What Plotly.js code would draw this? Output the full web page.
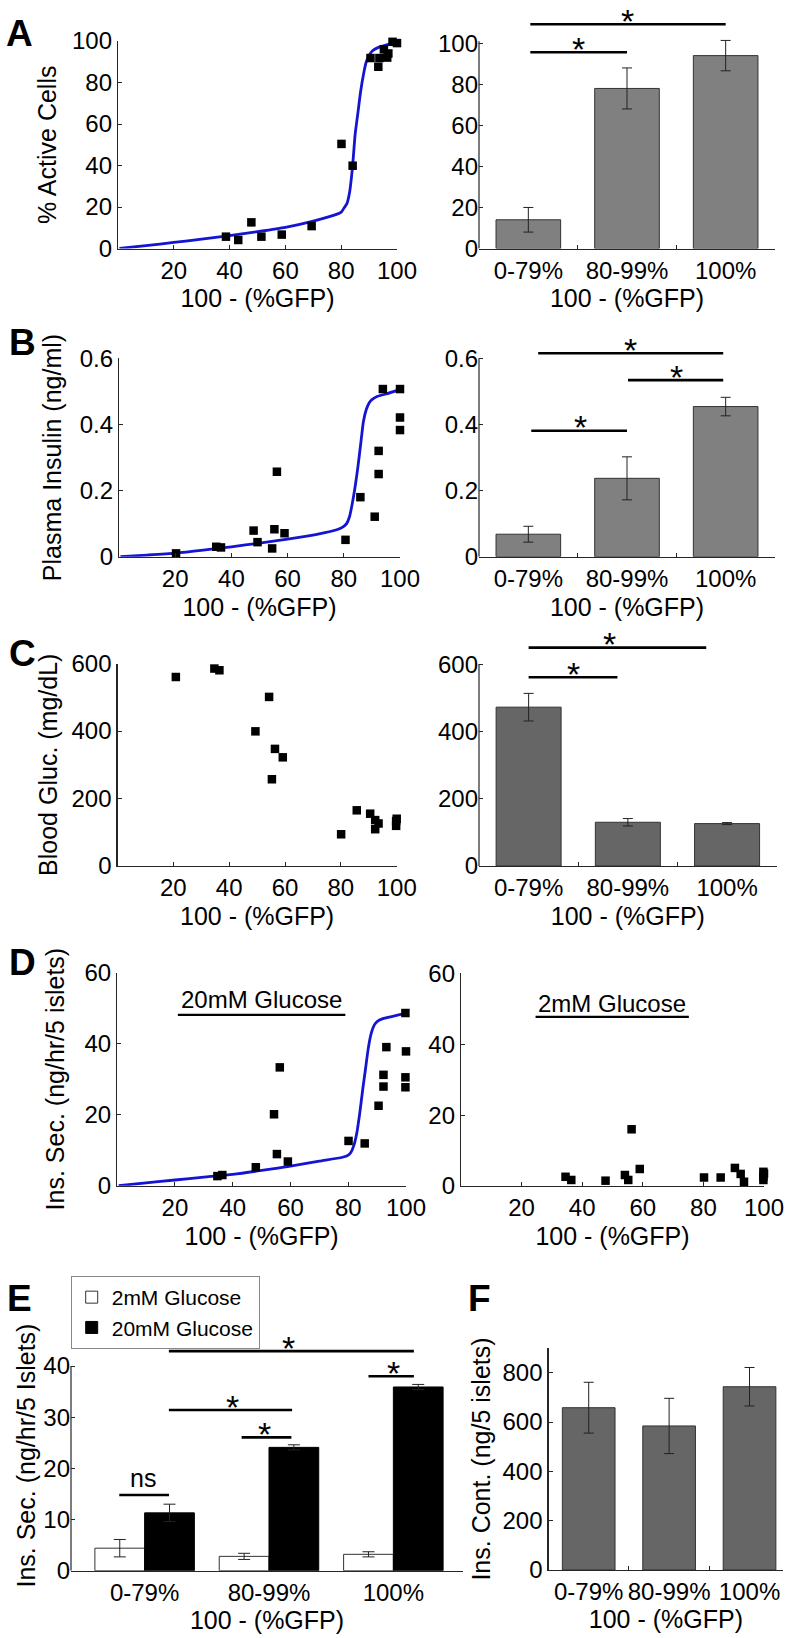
<!DOCTYPE html>
<html>
<head>
<meta charset="utf-8">
<script src="https://cdn.plot.ly/plotly-3.0.1.min.js"></script>
<style>html,body{margin:0;padding:0;background:#fff}#chart{width:794px;height:1638px}</style>
</head>
<body>
<div id="chart"></div>
<script>
// ------------------------- DATA -------------------------
const gfpTicks = [20, 40, 60, 80, 100];
const groups = ['0-79%', '80-99%', '100%'];
const groupPos = [1, 2, 3];

// Panel A : % active cells
const aX = [38.7, 43.1, 47.8, 51.4, 58.7, 69.4, 80.1, 84.1, 90.5, 93.3, 93.7, 95.3, 96.9, 96.5, 98.4, 100];
const aY = [5.7, 4.1, 12.6, 5.7, 6.7, 10.8, 50.4, 39.9, 91.8, 87.6, 91.8, 96, 94, 92, 99.6, 99];
const aFitX = [0.5, 10, 20, 30, 40, 50, 60, 70, 78, 80, 81, 82, 83, 84, 85, 86, 87, 88, 89, 90, 91, 92, 94, 96, 98, 100];
const aFitY = [0, 1.4, 2.9, 4.5, 6.2, 8.1, 10.2, 13.2, 16.3, 17.5, 19.5, 21.5, 27, 38.5, 55, 65.5, 76, 84, 90, 93, 95, 96, 97.3, 98, 99, 99.8];
const aMean = [14, 78, 94];
const aErr = [6, 10, 7.4];

// Panel B : plasma insulin
const bX = [20.3, 34.6, 36.3, 47.9, 49.3, 54.5, 55.3, 56.2, 58.9, 80.6, 85.9, 91, 92.4, 92.4, 93.9, 100, 100, 100];
const bY = [0.010, 0.030, 0.028, 0.079, 0.044, 0.025, 0.083, 0.257, 0.071, 0.051, 0.18, 0.121, 0.25, 0.32, 0.507, 0.507, 0.421, 0.383];
const bFitX = [0.5, 10, 20, 30, 40, 50, 60, 70, 78, 80, 81, 82, 83, 84, 85, 86, 87, 88, 89, 90, 92, 95, 100];
const bFitY = [0, 0.005, 0.011, 0.02, 0.03, 0.041, 0.053, 0.067, 0.083, 0.092, 0.1, 0.12, 0.16, 0.21, 0.27, 0.34, 0.41, 0.445, 0.465, 0.475, 0.485, 0.492, 0.505];
const bMean = [0.068, 0.237, 0.454];
const bErr = [0.024, 0.065, 0.028];

// Panel C : blood glucose
const cX = [20.9, 34.7, 36.5, 49.4, 54.3, 55.3, 56.4, 59.2, 80.1, 85.7, 90.5, 92.3, 93.5, 92.3, 99.8, 99.8, 100];
const cY = [560, 585, 580, 399, 501, 257, 347, 322, 94, 165, 155, 136, 126, 109, 133, 119, 140];
const cMean = [472, 130, 126];
const cErr = [41, 11, 3];

// Panel D : insulin secretion
const dHiX = [34.7, 36.4, 48, 54.3, 55.3, 56.3, 59.1, 80.1, 85.7, 90.5, 92.2, 92.2, 93.2, 99.8, 99.8, 100, 99.8];
const dHiY = [2.7, 3.0, 5.2, 20.1, 8.9, 33.3, 6.8, 12.6, 11.9, 22.5, 27.9, 31.2, 39, 27.7, 30.5, 37.8, 48.6];
const dFitX = [0.5, 10, 20, 30, 40, 50, 60, 70, 78, 80, 81, 82, 83, 84, 85, 86, 87, 88, 89, 90, 92, 95, 100];
const dFitY = [0, 0.8, 1.6, 2.4, 3.2, 4.3, 5.5, 6.9, 8, 8.6, 9.5, 11.5, 15, 20.5, 27, 33, 39, 43, 45.2, 46.2, 47, 47.6, 48.6];
const dLoX = [34.5, 36.4, 47.7, 54.1, 55.2, 56.3, 59, 80.2, 85.7, 90.4, 92.3, 93.4, 99.8, 99.8, 99.8, 100];
const dLoY = [2.6, 1.7, 1.5, 3.1, 1.7, 16, 4.8, 2.4, 2.4, 5.1, 3.4, 1.2, 4, 2.6, 1.7, 3.5];

// Panel E : grouped secretion
const eLow = [4.4, 2.8, 3.2];
const eLowErr = [1.7, 0.6, 0.5];
const eHigh = [11.3, 24.1, 35.9];
const eHighErr = [1.7, 0.5, 0.5];
const eNames = ['2mM Glucose', '20mM Glucose'];

// Panel F : insulin content
const fMean = [658, 584, 743];
const fErr = [103, 112, 78];

// Significance brackets (x from, x to, height, label x, label)
const sigA = {x0: [1.02, 1.02], x1: [2.0, 3.0], y: [95.6, 109.3], lx: [1.51, 2.01], t: ['*', '*']};
const sigB = {x0: [1.1, 2.01, 1.03], x1: [2.975, 2.975, 2.0], y: [0.615, 0.534, 0.381], lx: [2.04, 2.5, 1.53], t: ['*', '*', '*']};
const sigC = {x0: [1.0, 1.0], x1: [2.79, 1.895], y: [649, 561], lx: [1.81, 1.45], t: ['*', '*']};
const sigE = {x0: [0.796, 1.195, 1.78, 1.195, 2.8], x1: [1.196, 2.186, 2.18, 3.165, 3.165], y: [14.8, 31.4, 26.05, 42.9, 38.0], lx: [0.99, 1.71, 1.96, 2.16, 3.0], t: ['ns', '*', '*', '*', '*']};

// ------------------------- LAYOUT HELPERS -------------------------
const W = 794, H = 1638;
const FONT = 'Arial, "Liberation Sans", Helvetica, sans-serif';
const AXC = '#262626';
const BLUE = '#1414d2';
const xDom = (a, b) => [a / W, b / W];
const yDom = (top, bottom) => [1 - bottom / H, 1 - top / H];
const yExt = (zeroPx, ppu, top) => [1 - zeroPx / H, 1 - (zeroPx - top * ppu) / H];

function axBase(o) {
  return Object.assign({
    showgrid: false, zeroline: false, showline: true, linecolor: AXC, linewidth: 1.2,
    ticks: 'inside', ticklen: 4, tickwidth: 1, tickcolor: AXC,
    tickfont: {size: 24, color: '#000', family: FONT}, fixedrange: true, automargin: false
  }, o);
}
const tFont = {size: 25, color: '#000', family: FONT};
const xTitle = (s) => ({text: '100 - (%GFP)', font: tFont, standoff: s});
const yTitle = (t, s) => ({text: t, font: tFont, standoff: s});
const barX = (dom, anchor, s) => axBase({
  domain: dom, range: [0.5, 3.5], tickvals: groupPos, ticktext: groups, ticks: '',
  minor: {tickmode: 'array', tickvals: [1.5, 2.5], ticks: 'inside', ticklen: 4, tickcolor: AXC, showgrid: false},
  anchor: anchor, title: xTitle(s)
});
const gfpX = (dom, anchor, s) => axBase({domain: dom, range: [0, 100], tickvals: gfpTicks, anchor: anchor, title: xTitle(s)});

// ------------------------- TRACES -------------------------
const traces = [];
function fitLine(x, y, xa, ya) {
  traces.push({type: 'scatter', mode: 'lines', x: x, y: y, xaxis: xa, yaxis: ya,
    line: {color: BLUE, width: 2.8, shape: 'spline', smoothing: 0.6}, showlegend: false, hoverinfo: 'skip'});
}
function dots(x, y, xa, ya) {
  traces.push({type: 'scatter', mode: 'markers', x: x, y: y, xaxis: xa, yaxis: ya, cliponaxis: false,
    marker: {symbol: 'square', size: 8.5, color: '#000'}, showlegend: false, hoverinfo: 'skip'});
}
function bars(mean, err, xa, ya, color) {
  traces.push({type: 'bar', x: groupPos, y: mean, xaxis: xa, yaxis: ya, width: 0.655,
    marker: {color: color, line: {color: '#333', width: 1}},
    error_y: {type: 'data', array: err, visible: true, color: '#222', thickness: 1, width: 5},
    showlegend: false, hoverinfo: 'skip'});
}

fitLine(aFitX, aFitY, 'x', 'y');
dots(aX, aY, 'x', 'y');
bars(aMean, aErr, 'x2', 'y2', '#808080');
fitLine(bFitX, bFitY, 'x3', 'y3');
dots(bX, bY, 'x3', 'y3');
bars(bMean, bErr, 'x4', 'y4', '#808080');
dots(cX, cY, 'x5', 'y5');
bars(cMean, cErr, 'x6', 'y6', '#666666');
fitLine(dFitX, dFitY, 'x7', 'y7');
dots(dHiX, dHiY, 'x7', 'y7');
dots(dLoX, dLoY, 'x8', 'y8');
traces.push({type: 'bar', name: eNames[0], x: groupPos, y: eLow, xaxis: 'x9', yaxis: 'y9', offset: -0.4, width: 0.4,
  marker: {color: '#ffffff', line: {color: '#333', width: 1}},
  error_y: {type: 'data', array: eLowErr, visible: true, color: '#222', thickness: 1, width: 6}, hoverinfo: 'skip'});
traces.push({type: 'bar', name: eNames[1], x: groupPos, y: eHigh, xaxis: 'x9', yaxis: 'y9', offset: 0, width: 0.4,
  marker: {color: '#000000', line: {color: '#000', width: 1}},
  error_y: {type: 'data', array: eHighErr, visible: true, color: '#222', thickness: 1, width: 6}, hoverinfo: 'skip'});
bars(fMean, fErr, 'x10', 'y10', '#666666');

// ------------------------- SHAPES & ANNOTATIONS -------------------------
const shapes = [];
const annotations = [];
function sig(s, xa, ya) {
  for (let i = 0; i < s.y.length; i++) {
    shapes.push({type: 'line', xref: xa, yref: ya, x0: s.x0[i], x1: s.x1[i], y0: s.y[i], y1: s.y[i],
      line: {color: '#000', width: 2.6}});
    const isStar = s.t[i] === '*';
    annotations.push({xref: xa, yref: ya, x: s.lx[i], y: s.y[i], text: s.t[i], showarrow: false,
      xanchor: 'center', yanchor: 'middle', yshift: isStar ? 3.5 : 17,
      font: {size: isStar ? 34 : 25, color: '#000', family: FONT}});
  }
}
function yLine(xa, ya, top) {
  shapes.push({type: 'line', xref: xa + ' domain', yref: ya, x0: 0, x1: 0, y0: 0, y1: top,
    line: {color: AXC, width: 1.2}});
}
sig(sigA, 'x2', 'y2'); yLine('x2', 'y2', 101);
sig(sigB, 'x4', 'y4'); yLine('x4', 'y4', 0.6);
sig(sigC, 'x6', 'y6'); yLine('x6', 'y6', 600);
sig(sigE, 'x9', 'y9'); yLine('x9', 'y9', 40);

// underlined condition labels in D
annotations.push({xref: 'x7', yref: 'y7', x: 50.1, y: 52.4, text: '20mM Glucose', showarrow: false,
  xanchor: 'center', yanchor: 'middle', font: {size: 24, color: '#000', family: FONT}});
shapes.push({type: 'line', xref: 'x7', yref: 'y7', x0: 21, x1: 79, y0: 48.1, y1: 48.1, line: {color: '#000', width: 2.2}});
annotations.push({xref: 'x8', yref: 'y8', x: 49.9, y: 51.5, text: '2mM Glucose', showarrow: false,
  xanchor: 'center', yanchor: 'middle', font: {size: 24, color: '#000', family: FONT}});
shapes.push({type: 'line', xref: 'x8', yref: 'y8', x0: 24.6, x1: 75.2, y0: 47.7, y1: 47.7, line: {color: '#000', width: 2.2}});

// panel letters
const letters = [['A', 4, 33.9], ['B', 7, 342], ['C', 7, 653.9], ['D', 7, 962.2], ['E', 5, 1298.9], ['F', 466, 1298.9]];
letters.forEach(l => annotations.push({xref: 'paper', yref: 'paper', x: l[1] / W, y: 1 - l[2] / H, text: '<b>' + l[0] + '</b>',
  showarrow: false, xanchor: 'left', yanchor: 'middle', font: {size: 37, color: '#000', family: FONT}}));

// ------------------------- LAYOUT -------------------------
const layout = {
  width: W, height: H, margin: {l: 0, r: 0, t: 0, b: 0},
  paper_bgcolor: '#fff', plot_bgcolor: 'rgba(0,0,0,0)',
  font: {family: FONT, color: '#000', size: 24},
  barmode: 'group',
  showlegend: true,
  legend: {x: 70.7 / W, y: 1 - 1276 / H, xanchor: 'left', yanchor: 'top', bgcolor: '#fff',
    bordercolor: '#888', borderwidth: 1, font: {size: 21, color: '#000', family: FONT}, tracegroupgap: 0,
    itemwidth: 30},
  // A
  xaxis: gfpX(xDom(118, 397), 'y', 7),
  yaxis: axBase({domain: yDom(41, 248.5), range: [0, 100], tickvals: [0, 20, 40, 60, 80, 100], anchor: 'x', title: yTitle('% Active Cells', 8)}),
  xaxis2: barX(xDom(479, 775), 'y2', 7),
  yaxis2: axBase({domain: yExt(248.5, 2.052, 113), range: [0, 113], tickvals: [0, 20, 40, 60, 80, 100], anchor: 'x2', showline: false}),
  // B
  xaxis3: gfpX(xDom(119, 400), 'y3', 7),
  yaxis3: axBase({domain: yDom(358.3, 556.7), range: [0, 0.6], tickvals: [0, 0.2, 0.4, 0.6], anchor: 'x3', title: yTitle('Plasma Insulin (ng/ml)', 10)}),
  xaxis4: barX(xDom(479, 775), 'y4', 7),
  yaxis4: axBase({domain: yExt(556.7, 330.7, 0.64), range: [0, 0.64], tickvals: [0, 0.2, 0.4, 0.6], anchor: 'x4', showline: false}),
  // C
  xaxis5: gfpX(xDom(117.5, 396.7), 'y5', 7),
  yaxis5: axBase({domain: yDom(663.5, 866), range: [0, 600], tickvals: [0, 200, 400, 600], anchor: 'x5', title: yTitle('Blood Gluc. (mg/dL)', 6)}),
  xaxis6: barX(xDom(479, 776.7), 'y6', 7),
  yaxis6: axBase({domain: yExt(866, 0.3365, 680), range: [0, 680], tickvals: [0, 200, 400, 600], anchor: 'x6', showline: false}),
  // D
  xaxis7: gfpX(xDom(117.2, 406), 'y7', 7),
  yaxis7: axBase({domain: yDom(972.5, 1185.7), range: [0, 60], tickvals: [0, 20, 40, 60], anchor: 'x7', title: yTitle('Ins. Sec. (ng/hr/5 islets)', 12)}),
  xaxis8: gfpX(xDom(461, 764), 'y8', 7),
  yaxis8: axBase({domain: yDom(973.3, 1186), range: [0, 60], tickvals: [0, 20, 40, 60], anchor: 'x8'}),
  // E
  xaxis9: axBase({domain: xDom(71, 463), range: [0.408, 3.56], tickvals: groupPos, ticktext: groups, ticks: '', anchor: 'y9', title: xTitle(2)}),
  yaxis9: axBase({domain: yExt(1570.7, 5.1175, 45), range: [0, 45], tickvals: [0, 10, 20, 30, 40], anchor: 'x9', showline: false, title: yTitle('Ins. Sec. (ng/hr/5 Islets)', 0)}),
  // F
  xaxis10: barX(xDom(548.5, 783.3), 'y10', 2),
  yaxis10: axBase({domain: yDom(1348, 1570), range: [0, 900], tickvals: [0, 200, 400, 600, 800], anchor: 'x10', title: yTitle('Ins. Cont. (ng/5 islets)', 4)}),
  shapes: shapes,
  annotations: annotations
};
layout.xaxis10.range = [0.5, 3.42];

Plotly.newPlot('chart', traces, layout, {staticPlot: true, displayModeBar: false});
</script>
</body>
</html>
